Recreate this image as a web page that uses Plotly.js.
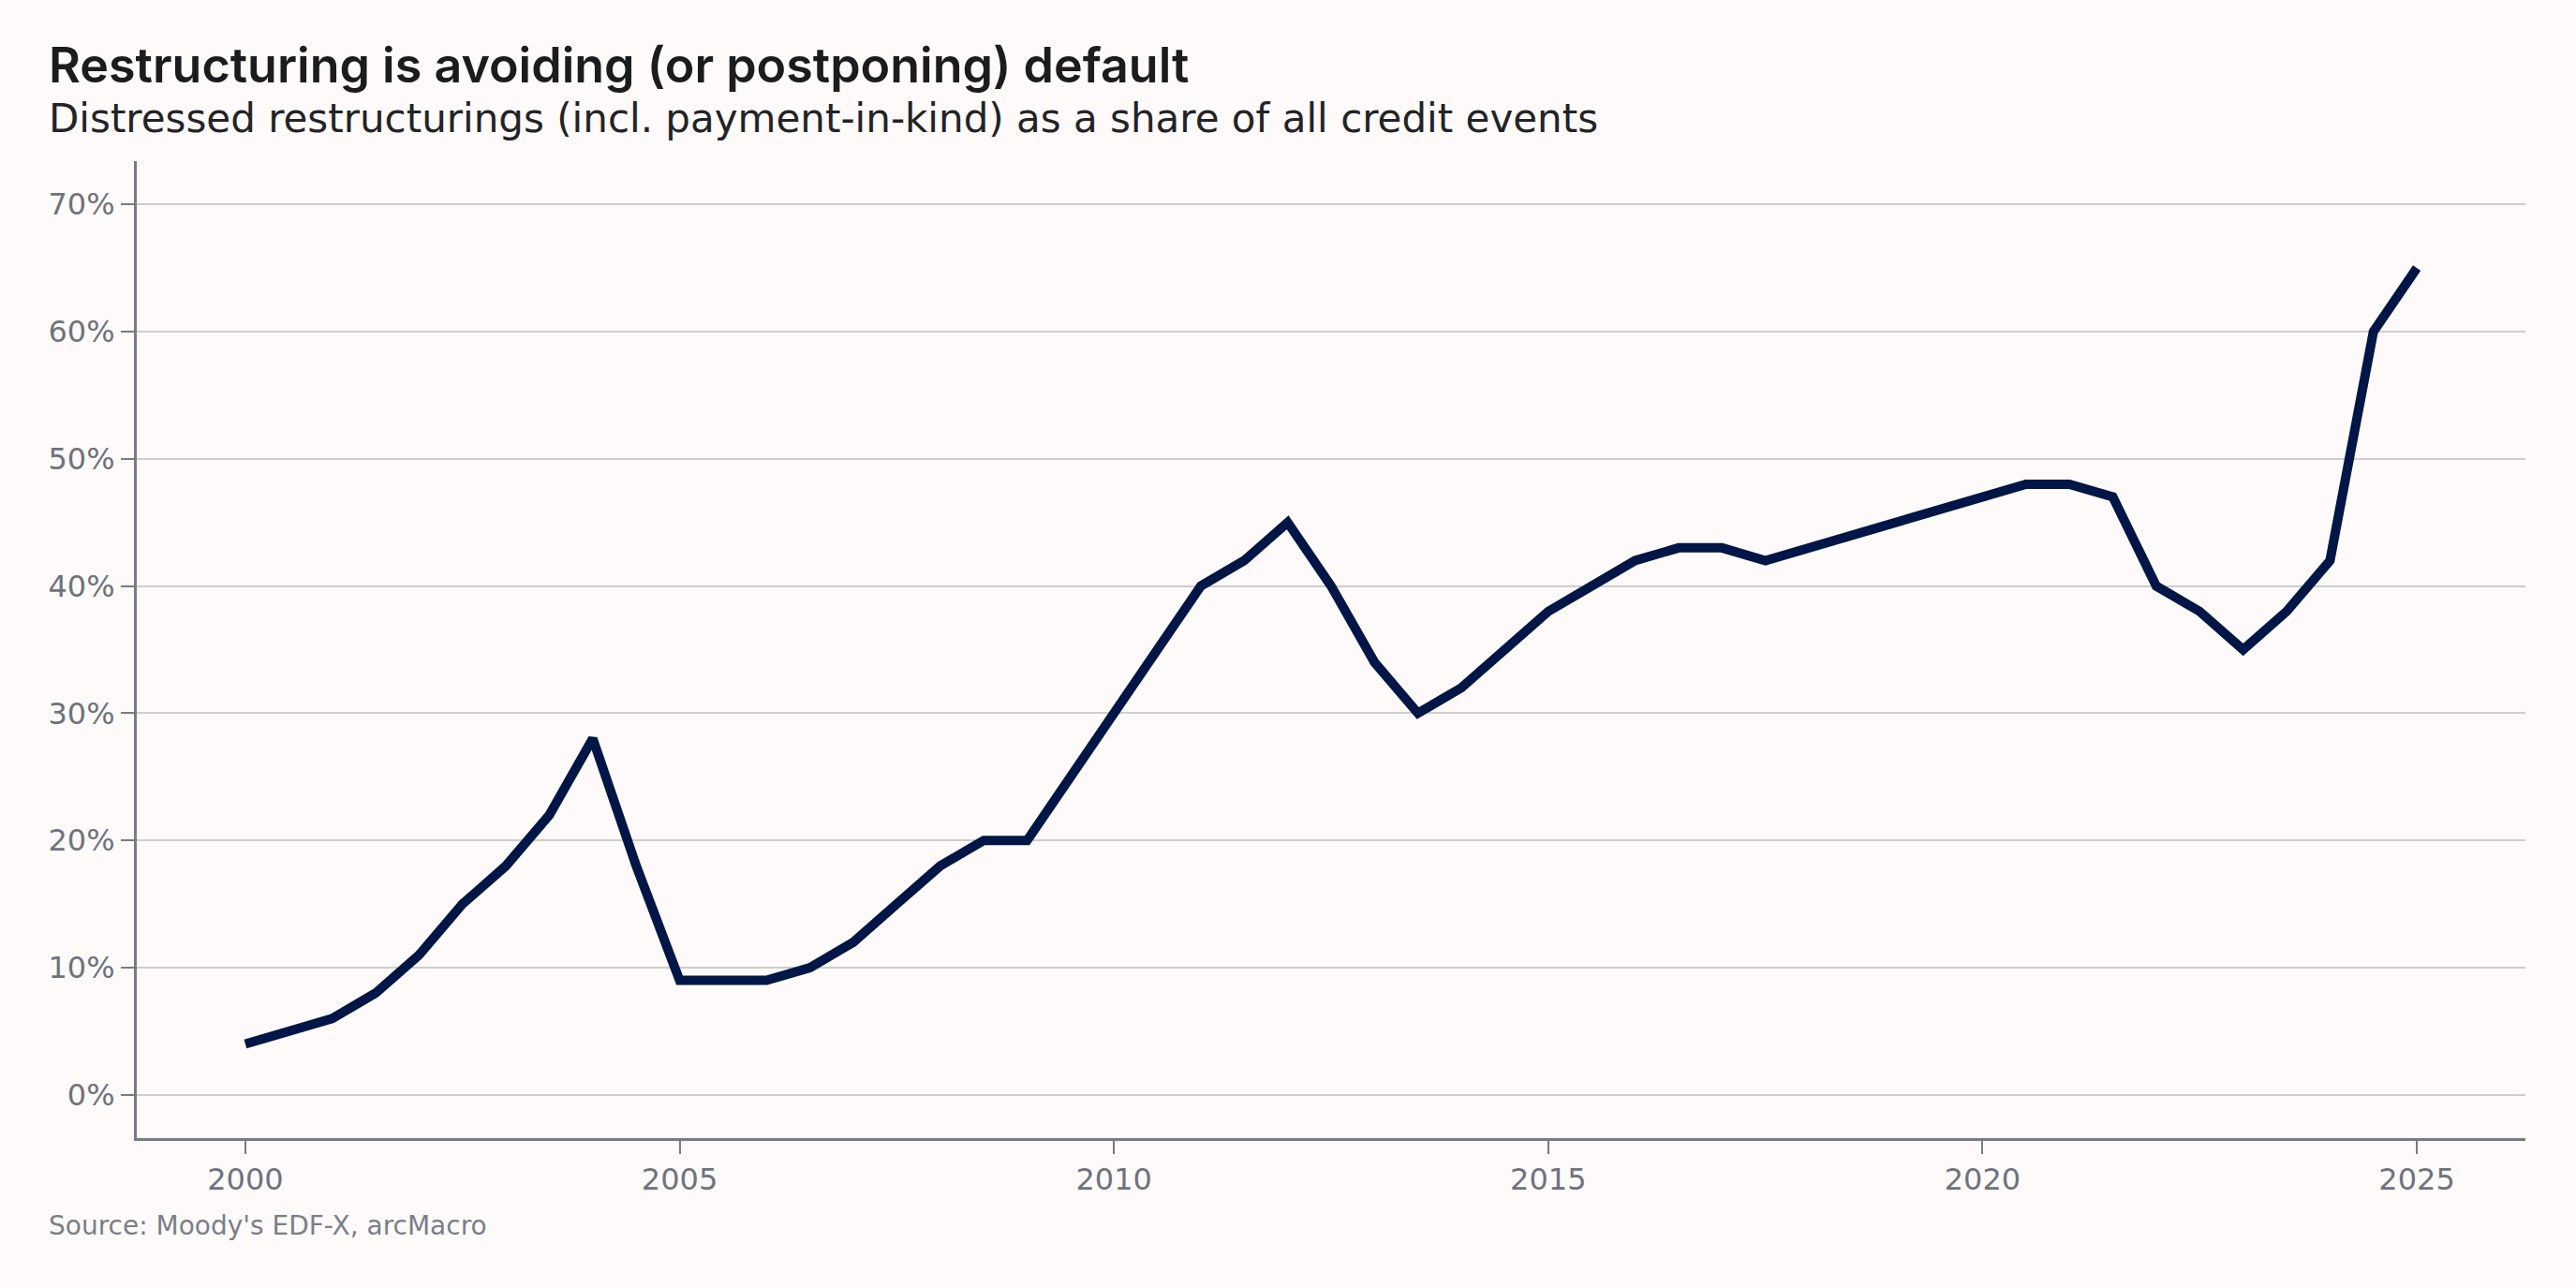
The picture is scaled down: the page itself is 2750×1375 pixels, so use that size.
<!DOCTYPE html>
<html>
<head>
<meta charset="utf-8">
<script src="https://cdn.plot.ly/plotly-3.0.1.min.js"></script>
<style>
  html, body { margin: 0; padding: 0; background: #fdfaf9; }
  #chart { width: 2750px; height: 1375px; }
</style>
</head>
<body>
<div id="chart"></div>
<script>
const titleText = "Restructuring is avoiding (or postponing) default";
const subtitleText = "Distressed restructurings (incl. payment-in-kind) as a share of all credit events";
const sourceText = "Source: Moody's EDF-X, arcMacro";

const years = [2000, 2000.5, 2001, 2001.5, 2002, 2002.5, 2003, 2003.5, 2004, 2004.5,
  2005, 2005.5, 2006, 2006.5, 2007, 2007.5, 2008, 2008.5, 2009, 2009.5,
  2010, 2010.5, 2011, 2011.5, 2012, 2012.5, 2013, 2013.5, 2014, 2014.5,
  2015, 2015.5, 2016, 2016.5, 2017, 2017.5, 2018, 2018.5, 2019, 2019.5,
  2020, 2020.5, 2021, 2021.5, 2022, 2022.5, 2023, 2023.5, 2024, 2024.5, 2025];
const sharePct = [4, 5, 6, 8, 11, 15, 18, 22, 28, 18,
  9, 9, 9, 10, 12, 15, 18, 20, 20, 25,
  30, 35, 40, 42, 45, 40, 34, 30, 32, 35,
  38, 40, 42, 43, 43, 42, 43, 44, 45, 46,
  47, 48, 48, 47, 40, 38, 35, 38, 42, 60, 65];

const xTicks = [2000, 2005, 2010, 2015, 2020, 2025];
const yTicks = [0, 10, 20, 30, 40, 50, 60, 70];

const tickFont = { family: "DejaVu Sans, sans-serif", size: 32, color: "#6e727e" };

const data = [{
  type: "scatter",
  mode: "lines",
  x: years,
  y: sharePct,
  line: { color: "#001646", width: 10 },
  hoverinfo: "skip"
}];

const layout = {
  width: 2750,
  height: 1375,
  paper_bgcolor: "#fdfaf9",
  plot_bgcolor: "#fdfaf9",
  showlegend: false,
  margin: { l: 146, r: 54, t: 172, b: 160 },
  title: {
    text: titleText,
    font: { family: "Inter, sans-serif", size: 52, color: "#1c1c1e", weight: 600 },
    xref: "container", x: 52 / 2750, xanchor: "left",
    yref: "container", y: 1 - 70 / 1375, yanchor: "middle"
  },
  xaxis: {
    range: [1998.75, 2026.25],
    tickvals: xTicks,
    ticktext: xTicks.map(String),
    showgrid: false,
    zeroline: false,
    showline: true,
    linecolor: "#777b86",
    linewidth: 3,
    ticks: "outside",
    ticklen: 14,
    tickwidth: 2,
    tickcolor: "#777b86",
    tickfont: tickFont
  },
  yaxis: {
    range: [-3.4, 73.4],
    tickvals: yTicks,
    ticktext: yTicks.map(v => v + "%"),
    showgrid: true,
    gridcolor: "#cdcdcd",
    gridwidth: 2,
    zeroline: false,
    showline: true,
    linecolor: "#777b86",
    linewidth: 3,
    ticks: "outside",
    ticklen: 14,
    tickwidth: 2,
    tickcolor: "#777b86",
    tickfont: tickFont
  },
  annotations: [
    {
      text: subtitleText,
      xref: "paper", yref: "paper",
      x: (50 - 146) / 2550, y: (1215 - 126) / 1043,
      xanchor: "left", yanchor: "middle",
      showarrow: false,
      font: { family: "DejaVu Sans, sans-serif", size: 42, color: "#232326" }
    },
    {
      text: sourceText,
      xref: "paper", yref: "paper",
      x: (50 - 146) / 2550, y: (1215 - 1308) / 1043,
      xanchor: "left", yanchor: "middle",
      showarrow: false,
      font: { family: "DejaVu Sans, sans-serif", size: 28, color: "#7a7e89" }
    }
  ]
};

Plotly.newPlot("chart", data, layout, { displayModeBar: false, staticPlot: true });
</script>
</body>
</html>
